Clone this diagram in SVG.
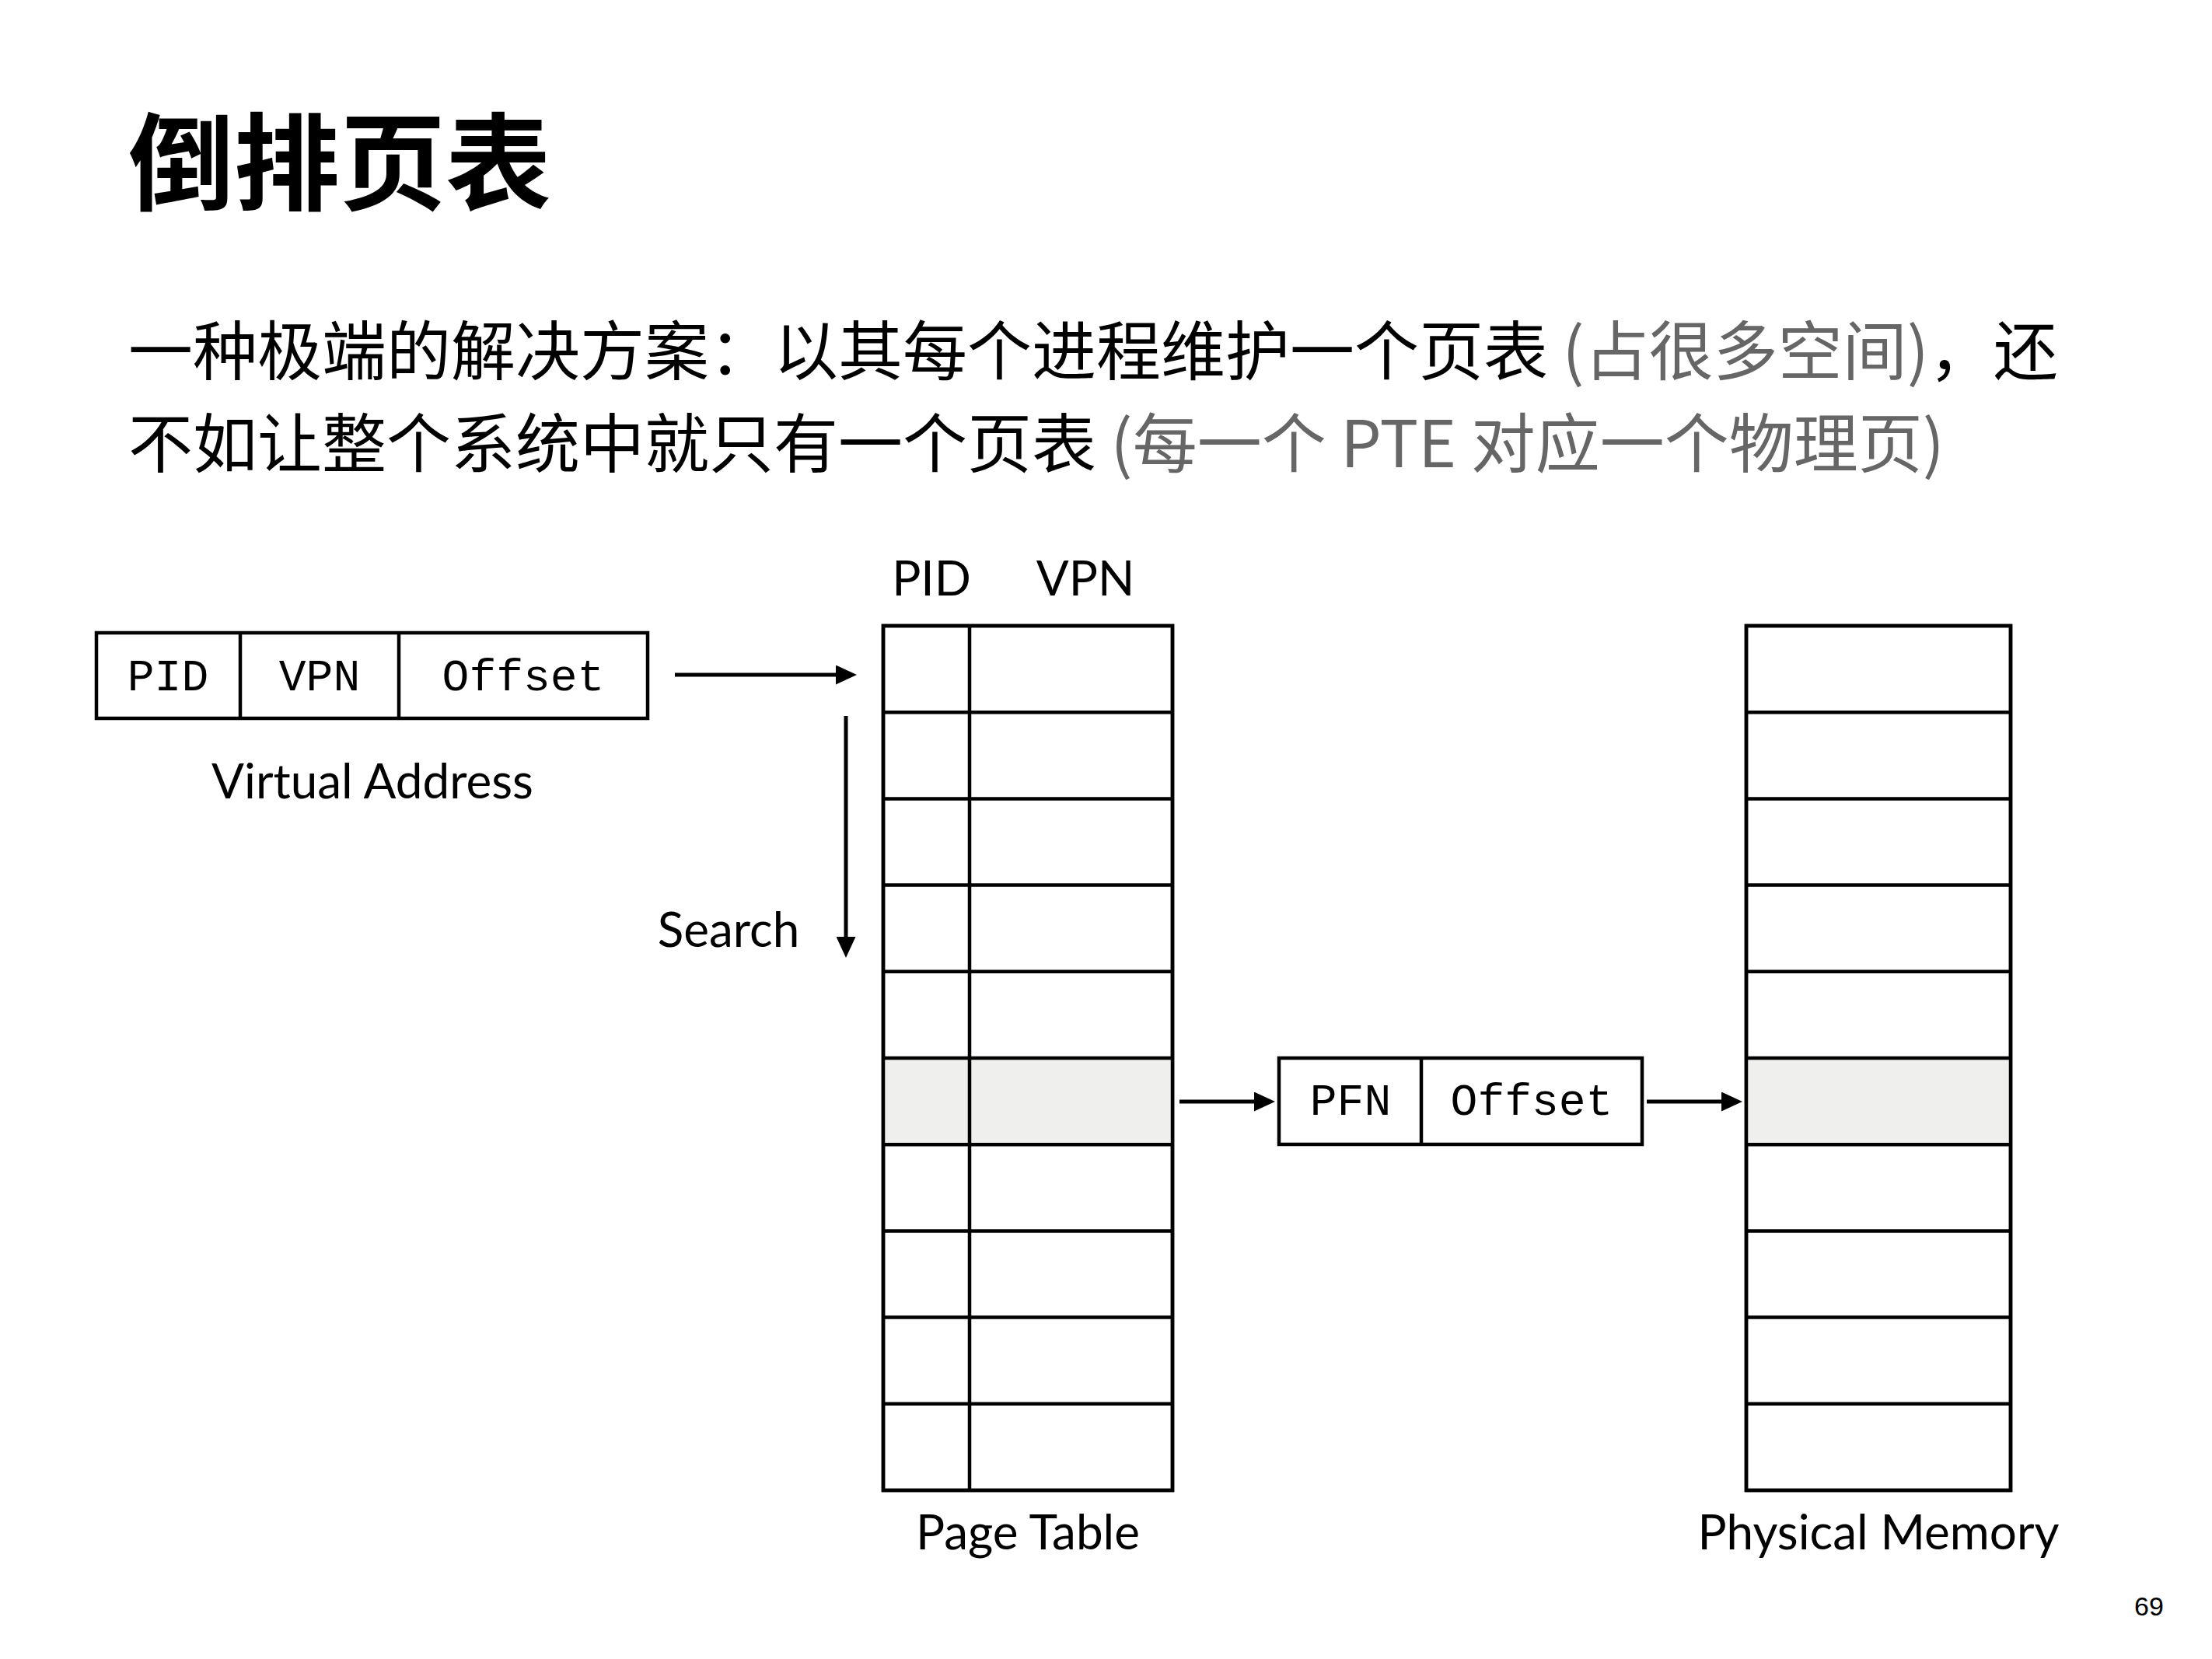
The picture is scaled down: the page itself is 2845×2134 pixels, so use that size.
<svg xmlns="http://www.w3.org/2000/svg" width="2845" height="2134" viewBox="0 0 2845 2134">
<defs>
<style>
.ln{stroke:#000;stroke-width:4.5;fill:none}
.cell{stroke:#000;stroke-width:4.5;fill:#fff}
.hl{fill:#efefed;stroke:none}
.mono{font-family:"Liberation Mono","DejaVu Sans Mono",monospace;font-size:58px;fill:#000;text-anchor:middle}
.lbl{font-family:Lato,"Noto Sans",sans-serif;font-size:62px;fill:#000;text-anchor:middle}
.cjk{font-family:"Noto Sans CJK SC",sans-serif;font-size:83px;fill:#000}
.gray{fill:#666}
.conn{stroke:#000;stroke-width:5;fill:none}
</style>
<marker id="ah" viewBox="0 0 27 25" refX="1" refY="12.5" markerWidth="27" markerHeight="25" markerUnits="userSpaceOnUse" orient="auto">
<path d="M0,0 L27,12.5 L0,25 Z" fill="#000"/>
</marker>
</defs>
<rect width="2845" height="2134" fill="#fff"/>
<text x="165" y="260" style="font-family:'Noto Sans CJK SC',sans-serif;font-size:136px;font-weight:700" fill="#000">倒排页表</text>
<text class="cjk" x="165" y="482">一种极端的解决方案：以其每个进程维护一个页表 <tspan class="gray">(占很多空间)</tspan>，还</text>
<text class="cjk" x="165" y="601">不如让整个系统中就只有一个页表 <tspan class="gray">(每一个 PTE 对应一个物理页)</tspan></text>

<g id="virtual-address">
<rect class="cell" x="124" y="814" width="709" height="110"/>
<line class="ln" x1="309" y1="814" x2="309" y2="924"/>
<line class="ln" x1="513" y1="814" x2="513" y2="924"/>
<text class="mono" x="216" y="888">PID</text>
<text class="mono" x="411" y="888">VPN</text>
<text class="mono" x="673" y="888">Offset</text>
<text class="lbl" x="479" y="1027">Virtual Address</text>
</g>

<g id="page-table">
<text class="lbl" x="1198" y="766">PID</text>
<text class="lbl" x="1396" y="766">VPN</text>
<rect class="cell" x="1136" y="805" width="372" height="1112"/>
<rect class="hl" x="1136" y="1361" width="372" height="111.2"/>
<rect class="ln" x="1136" y="805" width="372" height="1112"/>
<line class="ln" x1="1247" y1="805" x2="1247" y2="1917"/>
<line class="ln" x1="1136" y1="916.2" x2="1508" y2="916.2"/>
<line class="ln" x1="1136" y1="1027.4" x2="1508" y2="1027.4"/>
<line class="ln" x1="1136" y1="1138.6" x2="1508" y2="1138.6"/>
<line class="ln" x1="1136" y1="1249.8" x2="1508" y2="1249.8"/>
<line class="ln" x1="1136" y1="1361" x2="1508" y2="1361"/>
<line class="ln" x1="1136" y1="1472.2" x2="1508" y2="1472.2"/>
<line class="ln" x1="1136" y1="1583.4" x2="1508" y2="1583.4"/>
<line class="ln" x1="1136" y1="1694.6" x2="1508" y2="1694.6"/>
<line class="ln" x1="1136" y1="1805.8" x2="1508" y2="1805.8"/>
<text class="lbl" x="1322" y="1993">Page Table</text>
</g>

<g id="pfn-offset">
<rect class="cell" x="1645" y="1361" width="467" height="111"/>
<line class="ln" x1="1828" y1="1361" x2="1828" y2="1472"/>
<text class="mono" x="1737" y="1434">PFN</text>
<text class="mono" x="1970" y="1434">Offset</text>
</g>

<g id="physical-memory">
<rect class="cell" x="2246" y="805" width="340" height="1112"/>
<rect class="hl" x="2246" y="1361" width="340" height="111.2"/>
<rect class="ln" x="2246" y="805" width="340" height="1112"/>
<line class="ln" x1="2246" y1="916.2" x2="2586" y2="916.2"/>
<line class="ln" x1="2246" y1="1027.4" x2="2586" y2="1027.4"/>
<line class="ln" x1="2246" y1="1138.6" x2="2586" y2="1138.6"/>
<line class="ln" x1="2246" y1="1249.8" x2="2586" y2="1249.8"/>
<line class="ln" x1="2246" y1="1361" x2="2586" y2="1361"/>
<line class="ln" x1="2246" y1="1472.2" x2="2586" y2="1472.2"/>
<line class="ln" x1="2246" y1="1583.4" x2="2586" y2="1583.4"/>
<line class="ln" x1="2246" y1="1694.6" x2="2586" y2="1694.6"/>
<line class="ln" x1="2246" y1="1805.8" x2="2586" y2="1805.8"/>
<text class="lbl" x="2416" y="1993">Physical Memory</text>
</g>

<g id="connectors">
<line class="conn" x1="868" y1="868" x2="1076" y2="868" marker-end="url(#ah)"/>
<line class="conn" x1="1088" y1="921" x2="1088" y2="1206" marker-end="url(#ah)"/>
<line class="conn" x1="1517" y1="1417" x2="1614" y2="1417" marker-end="url(#ah)"/>
<line class="conn" x1="2118" y1="1417" x2="2215" y2="1417" marker-end="url(#ah)"/>
<text class="lbl" x="937" y="1218">Search</text>
</g>

<text x="2764" y="2078" style="font-family:'Liberation Sans',Arial,sans-serif;font-size:34px" fill="#000" text-anchor="middle">69</text>
</svg>
